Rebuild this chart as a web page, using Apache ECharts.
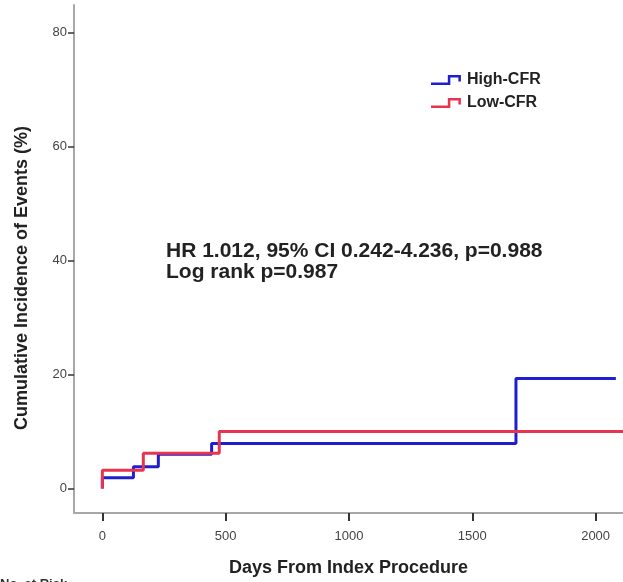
<!DOCTYPE html>
<html>
<head>
<meta charset="utf-8">
<script src="https://cdn.jsdelivr.net/npm/echarts@6/dist/echarts.min.js"></script>
<style>
  html, body { margin: 0; padding: 0; background: #fff; }
  #main { width: 623px; height: 582px; }
</style>
</head>
<body>
<div id="main"></div>
<script>
// 累积发生率 (step points: [day, %])
const highCfr = [[0, 0], [0, 1.9], [126, 3.8], [227, 6.0], [443, 7.9], [1677, 19.3], [2082, 19.3]]
const lowCfr = [[0, 0], [0, 3.2], [166, 6.2], [474, 10.0], [2115, 10.0]]
const xTicks = [0, 500, 1000, 1500, 2000]
const yTicks = [0, 20, 40, 60, 80]
const seriesNames = ['High-CFR', 'Low-CFR']
const statText = ['HR 1.012, 95% CI 0.242-4.236, p=0.988', 'Log rank p=0.987']

const font = 'Arial, "Liberation Sans", sans-serif'
// legend icon: step shape
const stepIcon = 'path://M0,8 L18,8 L18,0 L32,0 L32,7 L29.3,7 L29.3,2.7 L20.7,2.7 L20.7,10.7 L0,10.7 Z'

const myChart = echarts.init(document.getElementById('main'))

myChart.setOption({
  animation: false,
  color: ['#1f1fcf', '#e8344e'],
  grid: {
    left: 74,
    right: 0,
    top: 5,
    bottom: 66
  },
  legend: {
    orient: 'vertical',
    left: 431,
    top: 72,
    padding: 0,
    itemWidth: 30,
    itemHeight: 10,
    itemGap: 7,
    icon: stepIcon,
    data: seriesNames,
    textStyle: {
      fontFamily: font,
      fontWeight: 'bold',
      fontSize: 16,
      color: '#222',
      padding: [0, 0, 0, 1]
    }
  },
  xAxis: {
    type: 'value',
    min: -115,
    max: 2111,
    name: 'Days From Index Procedure',
    nameLocation: 'middle',
    nameGap: 46,
    nameTextStyle: {
      fontFamily: font,
      fontWeight: 'bold',
      fontSize: 18,
      color: '#222'
    },
    splitLine: { show: false },
    axisLine: {
      onZero: false,
      lineStyle: { color: '#a8a8a8', width: 2 }
    },
    axisTick: {
      customValues: xTicks,
      length: 8,
      lineStyle: { color: '#333', width: 2 }
    },
    axisLabel: {
      customValues: xTicks,
      margin: 17,
      fontFamily: font,
      fontSize: 13,
      color: '#444',
      formatter: function(value) {
        return String(value)
      }
    }
  },
  yAxis: {
    type: 'value',
    min: -4.3,
    max: 84.9,
    splitLine: { show: false },
    axisLine: {
      show: true,
      onZero: false,
      lineStyle: { color: '#a8a8a8', width: 2 }
    },
    axisTick: {
      show: true,
      customValues: yTicks,
      length: 6,
      lineStyle: { color: '#333', width: 1.5 }
    },
    axisLabel: {
      customValues: yTicks,
      margin: 7,
      fontFamily: font,
      fontSize: 13,
      color: '#444'
    }
  },
  graphic: [
    {
      // y轴标题
      type: 'text',
      x: 22,
      y: 278,
      rotation: Math.PI / 2,
      style: {
        text: 'Cumulative Incidence of Events (%)',
        font: 'bold 18px ' + font,
        fill: '#222',
        align: 'center',
        verticalAlign: 'middle'
      }
    },
    {
      type: 'text',
      left: 166,
      top: 241,
      style: {
        text: statText.join('\n'),
        font: 'bold 21px ' + font,
        lineHeight: 21,
        fill: '#222'
      }
    },
    {
      type: 'text',
      left: 0,
      top: 578,
      style: {
        text: 'No. at Risk',
        font: 'bold 13px ' + font,
        fill: '#333'
      }
    }
  ],
  series: [
    {
      name: seriesNames[0],
      type: 'line',
      step: 'end',
      data: highCfr,
      showSymbol: false,
      lineStyle: { width: 3 }
    },
    {
      name: seriesNames[1],
      type: 'line',
      step: 'end',
      data: lowCfr,
      showSymbol: false,
      lineStyle: { width: 3 }
    }
  ]
})
</script>
</body>
</html>
